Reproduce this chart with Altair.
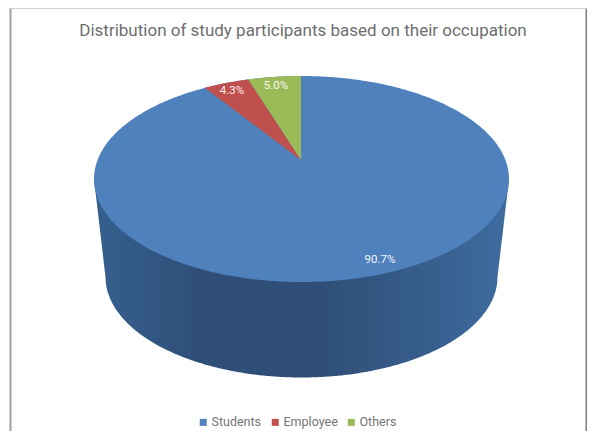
import math
import altair as alt
import pandas as pd

categories = ["Students", "Employee", "Others"]
shares = [90.7, 4.3, 5.0]
share_labels = ["90.7%", "4.3%", "5.0%"]
colors = ["#4F81BD", "#C0504D", "#9BBB59"]
title_text = "Distribution of study participants based on their occupation"

W, H = 579, 423
OX, OY = 8, 8
TOP = dict(cx=301.5, cy=179.0, rx=207.5, ry=103.0)
BOT = dict(cx=301.5, cy=277.0, rx=196.0, ry=100.5)
APEX = (301.0, 160.0)
N = 240


def ell_y(e, x, sign):
    u = max(0.0, 1 - ((x - e["cx"]) / e["rx"]) ** 2)
    return e["cy"] + sign * e["ry"] * math.sqrt(u)


def ray_hit(cum_share):
    th = math.radians(cum_share * 3.6)
    dx, dy = -TOP["rx"] * math.sin(th), -TOP["ry"] * math.cos(th)
    ax, ay = (APEX[0] - TOP["cx"]) / TOP["rx"], (APEX[1] - TOP["cy"]) / TOP["ry"]
    bx, by = dx / TOP["rx"], dy / TOP["ry"]
    a = bx * bx + by * by
    b = 2 * (ax * bx + ay * by)
    c = ax * ax + ay * ay - 1
    t = (-b + math.sqrt(b * b - 4 * a * c)) / (2 * a)
    return APEX[0] + t * dx, APEX[1] + t * dy


def on_ray(p, x):
    if abs(p[0] - APEX[0]) < 1e-9:
        return APEX[1]
    f = (x - APEX[0]) / (p[0] - APEX[0])
    return APEX[1] + f * (p[1] - APEX[1])


rows = []
for i in range(N + 1):
    x = TOP["cx"] - TOP["rx"] * math.cos(math.pi * i / N)
    rows.append(dict(cat=categories[0], x=x, y=ell_y(TOP, x, -1), y2=ell_y(TOP, x, 1)))

p_green = ray_hit(shares[2])
p_red = ray_hit(shares[2] + shares[1])


def span(a, b, n=60, extra=()):
    return sorted({a + (b - a) * i / n for i in range(n + 1)} | set(extra))


for x in span(p_red[0], APEX[0], extra=[p_green[0]]):
    top = ell_y(TOP, x, -1) if x <= p_green[0] else on_ray(p_green, x)
    rows.append(dict(cat=categories[1], x=x, y=top, y2=on_ray(p_red, x)))
for x in span(p_green[0], APEX[0]):
    rows.append(dict(cat=categories[2], x=x, y=ell_y(TOP, x, -1), y2=on_ray(p_green, x)))
top_df = pd.DataFrame(rows)

side = []
L, R = TOP["cx"] - TOP["rx"], TOP["cx"] + TOP["rx"]
bl, br = BOT["cx"] - BOT["rx"], BOT["cx"] + BOT["rx"]
for i in range(N + 1):
    x = L + (R - L) * i / N
    if x < bl:
        low = TOP["cy"] + (x - L) / (bl - L) * (BOT["cy"] - TOP["cy"])
    elif x > br:
        low = TOP["cy"] + (R - x) / (R - br) * (BOT["cy"] - TOP["cy"])
    else:
        low = ell_y(BOT, x, 1)
    side.append(dict(x=x, y=TOP["cy"], y2=low))
for i in range(81):
    x = bl + (br - bl) * (1 - math.cos(math.pi * i / 80)) / 2
    side.append(dict(x=x, y=TOP["cy"], y2=ell_y(BOT, x, 1)))
side_df = pd.DataFrame(side).sort_values("x")

xs = alt.Scale(domain=[OX, OX + W], nice=False, zero=False)
ys = alt.Scale(domain=[OY + H, OY], nice=False, zero=False)
X = alt.X("x:Q", scale=xs, axis=None)
Y = alt.Y("y:Q", scale=ys, axis=None)

gradient = alt.Gradient(
    gradient="linear",
    stops=[
        alt.GradientStop(color="#36608F", offset=0),
        alt.GradientStop(color="#2F4F78", offset=0.25),
        alt.GradientStop(color="#2F4F78", offset=0.55),
        alt.GradientStop(color="#375E8C", offset=0.8),
        alt.GradientStop(color="#3F6CA0", offset=1),
    ],
    x1=0, x2=1, y1=0, y2=0,
)
side_layer = alt.Chart(side_df).mark_area(color=gradient).encode(x=X, y=Y, y2="y2:Q")

top_layer = alt.Chart(top_df).mark_area().encode(
    x=X, y=Y, y2="y2:Q",
    color=alt.Color(
        "cat:N",
        scale=alt.Scale(domain=categories, range=colors),
        legend=alt.Legend(
            orient="none", legendX=189, legendY=408, direction="horizontal",
            title=None, symbolType="square", symbolSize=49, symbolStrokeWidth=0,
            labelFont="Roboto", labelFontSize=12.5, labelColor="#757575",
            labelOffset=2, columnPadding=7, columns=3,
        ),
    ),
)

label_pos = [(380, 260), (232, 91), (276, 86)]
text_layers = [
    alt.Chart(pd.DataFrame({"t": [s]})).mark_text(
        font="Roboto", fontSize=11.5, color="#FFFFFF", align="center", baseline="middle", opacity=0.92
    ).encode(text="t:N", x=alt.value(p[0] - OX), y=alt.value(p[1] - OY))
    for s, p in zip(share_labels, label_pos)
]

d = pd.DataFrame({"a": [0]})
frame = [
    alt.Chart(d).mark_rule(color="#A0A0A0", strokeWidth=2).encode(
        x=alt.value(10.5 - OX), y=alt.value(0), y2=alt.value(H)),
    alt.Chart(d).mark_rule(color="#808080", strokeWidth=1.5).encode(
        x=alt.value(W - 0.75), y=alt.value(0), y2=alt.value(H)),
    alt.Chart(d).mark_rule(color="#D0D0D0", strokeWidth=1).encode(
        x=alt.value(10 - OX), x2=alt.value(W), y=alt.value(0.5)),
]

chart = alt.layer(side_layer, top_layer, *text_layers, *frame).properties(
    width=W, height=H, padding=0,
    autosize=alt.AutoSizeParams(type="none"),
    title=alt.TitleParams(
        title_text, anchor="middle", font="Roboto", fontSize=17, fontWeight="normal",
        color="#6E6E6E", offset=-33, dx=5.5,
    ),
    background="#FFFFFF",
).configure_view(stroke=None)

chart.save("out.html", embed_options={"renderer": "svg", "actions": False})
